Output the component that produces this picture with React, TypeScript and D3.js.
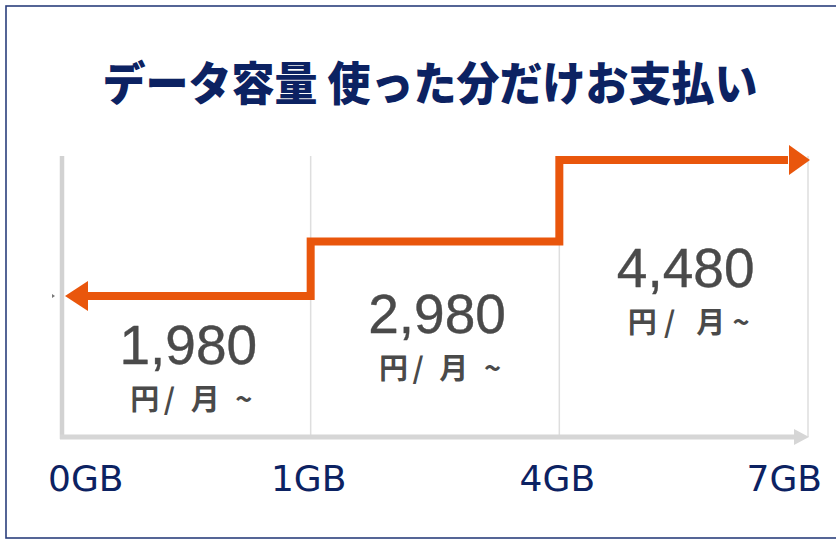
import React from "react";
import * as d3 from "d3";

const title = "データ容量 使った分だけお支払い";
const tiers = ["0GB", "1GB", "4GB", "7GB"];
const prices = [1980, 2980, 4480];
const priceLabels = ["1,980", "2,980", "4,480"];
const unitLabels = ["円/ 月 ~", "円/ 月 ~", "円/ 月~"];

const W = 836;
const H = 541;
const NAVY = "#0c2262";
const ORANGE = "#e9560c";
const GRAY_TXT = "#4a4a4a";

export default function App() {
  const x = d3.scalePoint<string>().domain(tiers).range([62, 808]);
  const y = d3.scaleLinear().domain([1980, 4480]).range([296, 160]);
  const labelY = d3.scaleLinear().domain([1980, 4480]).range([364, 287]);

  const axisY = 437;
  const gridTop = 156;

  const pts: [number, number][] = tiers.map((t, i) => [
    x(t) as number,
    y(prices[Math.min(i, prices.length - 1)]),
  ]);
  const x0 = x(tiers[0]) as number;
  const xN = x(tiers[tiers.length - 1]) as number;
  const shaftPts: [number, number][] = pts.map((p, i) => {
    if (i === 0) return [x0 + 22, p[1]];
    if (i === pts.length - 1) return [xN - 20, p[1]];
    return p;
  });
  const stepLine = d3.line().curve(d3.curveStepAfter)(shaftPts) || "";

  const yFirst = y(prices[0]);
  const yLast = y(prices[prices.length - 1]);
  const leftArrow = `M${x0 + 3},${yFirst} L${x0 + 26},${yFirst - 15} L${x0 + 26},${yFirst + 15} Z`;
  const rightArrow = `M${xN + 2},${yLast} L${xN - 19},${yLast - 15} L${xN - 19},${yLast + 15} Z`;

  return (
    <svg
      width={W}
      height={H}
      style={{ position: "absolute", left: 0, top: 0, background: "#fff" }}
    >
      <rect x={0} y={0} width={W} height={H} fill="#fff" />
      <rect x={6} y={6} width={860} height={532} fill="none" stroke="#2b3f7c" strokeWidth={1.6} />

      <text
        x={430}
        y={80}
        textAnchor="middle"
        dominantBaseline="central"
        fontFamily="'Noto Sans CJK JP', sans-serif"
        fontWeight={900}
        fontSize={46}
        fill={NAVY}
        textLength={655}
        lengthAdjust="spacingAndGlyphs"
      >
        {title}
      </text>

      {tiers.slice(1).map((t) => (
        <line
          key={t}
          x1={x(t) as number}
          x2={x(t) as number}
          y1={gridTop}
          y2={axisY}
          stroke="#dedede"
          strokeWidth={1.5}
        />
      ))}

      <line x1={x0} x2={x0} y1={gridTop} y2={axisY + 2} stroke="#d2d2d2" strokeWidth={4.5} />
      <line x1={x0 - 2} x2={xN - 14} y1={axisY} y2={axisY} stroke="#d6d6d6" strokeWidth={5} />
      <path
        d={`M${xN + 1},${axisY} L${xN - 14},${axisY - 8} L${xN - 14},${axisY + 8} Z`}
        fill="#d6d6d6"
      />

      <path d={`M${x0 - 10},${yFirst - 2} L${x0 - 7},${yFirst} L${x0 - 10},${yFirst + 2} Z`} fill="#777" />

      <path d={stepLine} fill="none" stroke={ORANGE} strokeWidth={8} strokeLinejoin="miter" />
      <path d={leftArrow} fill={ORANGE} />
      <path d={rightArrow} fill={ORANGE} />

      {prices.map((p, i) => {
        const cx = ((x(tiers[i]) as number) + (x(tiers[i + 1]) as number)) / 2;
        const by = labelY(p);
        return (
          <g key={p}>
            <text
              x={cx + 2}
              y={by}
              textAnchor="middle"
              fontFamily="'Liberation Sans', Arial, sans-serif"
              fontSize={55}
              fill={GRAY_TXT}
              stroke={GRAY_TXT}
              strokeWidth={0.4}
            >
              {priceLabels[i]}
            </text>
            <text
              x={cx + 5}
              y={by + 46}
              textAnchor="middle"
              fontFamily="'Noto Sans CJK JP', sans-serif"
              fontWeight={700}
              fontSize={29}
              fill={GRAY_TXT}
              textLength={122}
              lengthAdjust="spacing"
            >
              {unitLabels[i]}
            </text>
          </g>
        );
      })}

      {tiers.map((t, i) => {
        const px = x(t) as number;
        const first = i === 0;
        const last = i === tiers.length - 1;
        return (
          <text
            key={t}
            x={first ? px - 14 : last ? px + 14 : px - 2}
            y={491}
            textAnchor={first ? "start" : last ? "end" : "middle"}
            fontFamily="'DejaVu Sans', Verdana, sans-serif"
            fontSize={36}
            fill={NAVY}
          >
            {t}
          </text>
        );
      })}
    </svg>
  );
}
